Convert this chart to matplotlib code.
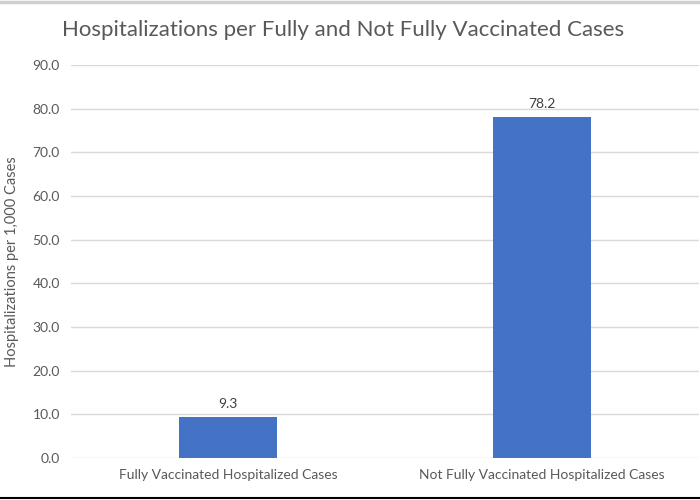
import matplotlib.pyplot as plt
from matplotlib.lines import Line2D

categories = ["Fully Vaccinated Hospitalized Cases", "Not Fully Vaccinated Hospitalized Cases"]
values = [9.3, 78.2]
yticks = [0, 10, 20, 30, 40, 50, 60, 70, 80, 90]

plt.rcParams["font.family"] = ["Lato", "DejaVu Sans"]
text_color = "#595959"

fig = plt.figure(figsize=(7, 5), dpi=100)
ax = fig.add_axes([0.1014, 0.084, 0.897, 0.786])

x = list(range(len(categories)))
bars = ax.bar(x, values, width=0.31, color="#4472C4", zorder=3)
for b, v in zip(bars, values):
    ax.annotate(f"{v:.1f}", (b.get_x() + b.get_width() / 2, v),
                xytext=(0, 5), textcoords="offset points",
                ha="center", va="bottom", fontsize=10, color="#404040")

ax.set_xlim(-0.5, 1.5)
ax.set_ylim(0, 90)
ax.set_yticks(yticks)
ax.set_yticklabels([f"{t:.1f}" for t in yticks])
ax.set_xticks(x)
ax.set_xticklabels(categories)
ax.tick_params(axis="both", length=0, labelsize=10, colors=text_color, pad=8)
ax.grid(axis="y", color="#d9d9d9", linewidth=1, zorder=0)
for s in ax.spines.values():
    s.set_visible(False)

ax.set_ylabel("Hospitalizations per 1,000 Cases", fontsize=10.5, color=text_color, labelpad=10)
fig.text(0.49, 0.94, "Hospitalizations per Fully and Not Fully Vaccinated Cases",
         ha="center", va="center", fontsize=16, color=text_color)

# frame lines at top and bottom of the image
fig.add_artist(Line2D([0, 1], [0.997, 0.997], color="#d0d0d0", linewidth=2.5, transform=fig.transFigure))
fig.add_artist(Line2D([0, 1], [0.004, 0.004], color="#000000", linewidth=1.5, transform=fig.transFigure))

fig.savefig("out.png", dpi=100)
